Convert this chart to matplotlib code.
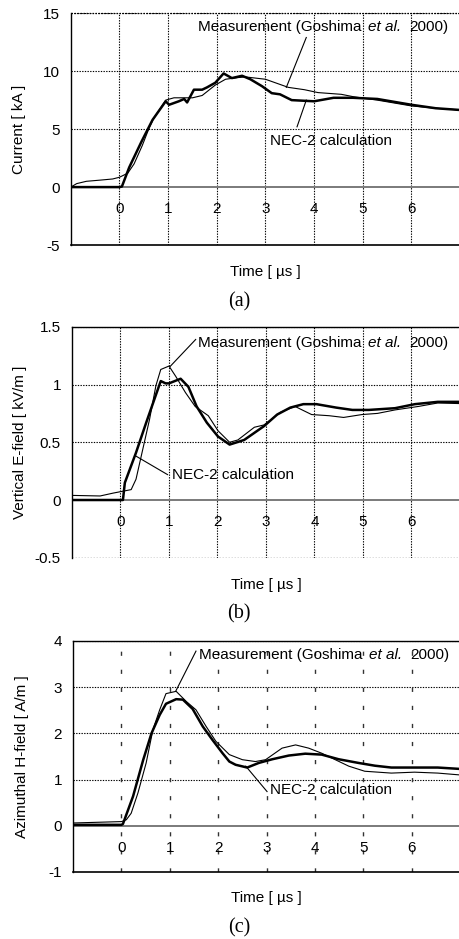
import matplotlib.pyplot as plt

plt.rcParams['font.family'] = ['Liberation Sans', 'DejaVu Sans']

# ---- (a) current [kA] ----
ta_nec = [-1.0, 0.0, 0.05, 0.2, 0.45, 0.68, 0.95, 1.02, 1.22, 1.33, 1.39, 1.53, 1.7, 1.8, 1.97,
          2.14, 2.31, 2.52, 2.69, 2.93, 3.13, 3.3, 3.54, 4.0, 4.4, 4.8, 5.3, 6.0, 6.5, 7.0]
ia_nec = [0.0, 0.0, 0.05, 1.7, 3.9, 5.8, 7.4, 7.1, 7.4, 7.6, 7.3, 8.4, 8.4, 8.6, 9.0,
          9.8, 9.4, 9.6, 9.3, 8.7, 8.1, 8.0, 7.5, 7.4, 7.7, 7.7, 7.6, 7.1, 6.8, 6.65]
ta_meas = [-1.0, -0.88, -0.68, -0.4, -0.14, 0.0, 0.17, 0.3, 0.47, 0.6, 0.7, 0.95, 1.12, 1.5, 1.7,
           1.97, 2.18, 2.45, 2.59, 3.0, 3.47, 3.8, 4.08, 4.56, 4.8, 5.3, 6.0, 6.5, 7.0]
ia_meas = [0.0, 0.3, 0.5, 0.6, 0.7, 0.85, 1.2, 2.0, 3.6, 5.0, 5.9, 7.5, 7.7, 7.7, 7.9,
           8.8, 9.3, 9.45, 9.5, 9.3, 8.6, 8.4, 8.15, 8.0, 7.8, 7.5, 7.0, 6.8, 6.65]

# ---- (b) vertical E-field [kV/m] ----
tb_nec = [-1.0, 0.0, 0.05, 0.09, 0.32, 0.53, 0.83, 0.93, 1.0, 1.24, 1.4, 1.57, 1.78, 2.01, 2.25,
          2.55, 2.96, 3.23, 3.5, 3.77, 4.04, 4.45, 4.78, 5.12, 5.66, 6.07, 6.54, 7.0]
eb_nec = [0.0, 0.0, 0.0, 0.15, 0.41, 0.67, 1.03, 1.01, 1.01, 1.05, 0.98, 0.81, 0.67, 0.55, 0.48,
          0.52, 0.64, 0.74, 0.80, 0.83, 0.83, 0.80, 0.78, 0.78, 0.795, 0.83, 0.85, 0.85]
tb_meas = [-1.0, -0.42, -0.15, 0.22, 0.32, 0.46, 0.6, 0.73, 0.83, 1.0, 1.14, 1.34, 1.54, 1.81, 2.01,
           2.25, 2.42, 2.76, 2.96, 3.3, 3.6, 3.94, 4.3, 4.6, 4.98, 5.3, 5.66, 6.14, 6.54, 7.0]
eb_meas = [0.04, 0.035, 0.06, 0.09, 0.18, 0.44, 0.70, 0.99, 1.13, 1.16, 1.07, 0.93, 0.81, 0.73, 0.60,
           0.50, 0.52, 0.63, 0.65, 0.76, 0.81, 0.74, 0.73, 0.715, 0.74, 0.75, 0.78, 0.81, 0.84, 0.835]

# ---- (c) azimuthal H-field [A/m] ----
tc_nec = [-1.0, 0.0, 0.03, 0.24, 0.45, 0.62, 0.79, 0.92, 1.13, 1.27, 1.47, 1.68, 1.88, 2.09, 2.23,
          2.36, 2.6, 2.84, 3.12, 3.46, 3.8, 4.14, 4.49, 4.9, 5.24, 5.58, 6.06, 6.54, 7.0]
hc_nec = [0.02, 0.02, 0.04, 0.64, 1.43, 2.0, 2.4, 2.64, 2.74, 2.73, 2.53, 2.15, 1.86, 1.57, 1.39,
          1.32, 1.26, 1.36, 1.44, 1.52, 1.56, 1.54, 1.44, 1.36, 1.30, 1.26, 1.26, 1.26, 1.23]
tc_meas = [-1.0, 0.0, 0.1, 0.2, 0.34, 0.51, 0.65, 0.79, 0.92, 1.13, 1.34, 1.54, 1.75, 1.95, 2.23,
           2.5, 2.77, 2.98, 3.32, 3.6, 3.87, 4.14, 4.42, 4.7, 5.03, 5.58, 6.06, 6.54, 7.0]
hc_meas = [0.06, 0.09, 0.13, 0.27, 0.71, 1.36, 2.08, 2.51, 2.86, 2.91, 2.69, 2.51, 2.15, 1.83, 1.54,
           1.43, 1.39, 1.43, 1.68, 1.75, 1.68, 1.57, 1.43, 1.29, 1.18, 1.14, 1.16, 1.14, 1.10]

xticks = [0, 1, 2, 3, 4, 5, 6]

panels = [
    dict(t_nec=ta_nec, y_nec=ia_nec, t_meas=ta_meas, y_meas=ia_meas,
         ylim=(-5, 15), yticks=[-5, 0, 5, 10, 15], ylabels=["-5", "0", "5", "10", "15"],
         ylabel="Current [ kA ]", cap="(a)", rect=[0.154, 0.739, 0.846, 0.247],
         meas_txt=(1.61, 13.8), meas_line=((3.84, 12.9), (3.43, 8.6)),
         nec_txt=(3.1, 4.0), nec_line=((3.65, 5.2), (3.84, 7.5)),
         vgrid="dot", bottom="solid", top="dot", xlab_y=272, cap_y=302),
    dict(t_nec=tb_nec, y_nec=eb_nec, t_meas=tb_meas, y_meas=eb_meas,
         ylim=(-0.5, 1.5), yticks=[-0.5, 0, 0.5, 1, 1.5], ylabels=["-0.5", "0", "0.5", "1", "1.5"],
         ylabel="Vertical E-field [ kV/m ]", cap="(b)", rect=[0.1565, 0.406, 0.8435, 0.246],
         meas_txt=(1.59, 1.36), meas_line=((1.55, 1.39), (1.02, 1.155)),
         nec_txt=(1.06, 0.215), nec_line=((0.97, 0.22), (0.32, 0.38)),
         vgrid="dot", bottom="dot", top="solid", xlab_y=585, cap_y=614),
    dict(t_nec=tc_nec, y_nec=hc_nec, t_meas=tc_meas, y_meas=hc_meas,
         ylim=(-1, 4), yticks=[-1, 0, 1, 2, 3, 4], ylabels=["-1", "0", "1", "2", "3", "4"],
         ylabel="Azimuthal H-field [ A/m ]", cap="(c)", rect=[0.159, 0.0714, 0.841, 0.246],
         meas_txt=(1.6, 3.70), meas_line=((1.54, 3.78), (1.12, 2.91)),
         nec_txt=(3.08, 0.77), nec_line=((3.01, 0.74), (2.57, 1.29)),
         vgrid="dash", bottom="solid", top="solid", xlab_y=898, cap_y=928),
]

DOT = (0, (1.2, 1.2))
FS = 11
fig = plt.figure(figsize=(4.6, 9.39), dpi=100)
fig.canvas.draw()
r = fig.canvas.get_renderer()

for p in panels:
    ax = fig.add_axes(p["rect"])
    ax.set_xlim(-1, 7)
    ax.set_ylim(*p["ylim"])
    # grid
    for yv in p["yticks"][1:]:
        if yv != 0:
            ax.axhline(yv, color="black", lw=0.8, ls=DOT, zorder=1)
    for xv in xticks:
        if p["vgrid"] == "dot":
            ax.axvline(xv, color="black", lw=0.8, ls=DOT, zorder=1)
        else:
            ax.axvline(xv, color="#333333", lw=1.0, ls=(0, (3, 10)), zorder=1)
    if p["bottom"] == "dot":
        ax.axhline(p["ylim"][0], color="black", lw=0.9, ls=DOT, zorder=1)
    if p["top"] == "dot":
        ax.axhline(p["ylim"][1], color="black", lw=0.9, ls=DOT, zorder=1, clip_on=False)
    else:
        ax.axhline(p["ylim"][1], color="black", lw=1.0, zorder=1, clip_on=False)
    ax.axhline(0, color="#7a7a7a", lw=1.4, zorder=2)
    # curves
    ax.plot(p["t_meas"], p["y_meas"], color="black", lw=0.8, zorder=3)
    ax.plot(p["t_nec"], p["y_nec"], color="black", lw=1.8, zorder=4)
    # spines
    for s in ["top", "right"]:
        ax.spines[s].set_visible(False)
    ax.spines["left"].set_linewidth(1.0)
    ax.spines["bottom"].set_linewidth(1.2)
    ax.spines["bottom"].set_visible(p["bottom"] == "solid")
    ax.set_yticks(p["yticks"])
    ax.set_yticklabels(p["ylabels"], fontsize=FS)
    ax.set_xticks([])
    ax.tick_params(axis="y", length=0, pad=8)
    ax.set_ylabel(p["ylabel"], fontsize=FS)
    ax.yaxis.set_label_coords(-0.115, 0.5)
    for xv in xticks:
        ax.annotate(str(xv), xy=(xv, 0), xytext=(0, -16), textcoords="offset points",
                    ha="center", va="center", fontsize=FS)
    # annotations: "Measurement (Goshima et al.  2000)" with italic et al.
    mx, my = p["meas_txt"]
    t0 = ax.text(mx, my, "Measurement (Goshima", fontsize=FS, va="center", ha="left")
    bb = t0.get_window_extent(r)
    x_it = ax.transData.inverted().transform((bb.x1 + 7, bb.y0))[0]
    it = ax.text(x_it, my, "et al.", fontsize=FS, style="italic", va="center", ha="left")
    bb2 = it.get_window_extent(r)
    x_end = ax.transData.inverted().transform((bb2.x1 + 8, bb2.y0))[0]
    ax.text(x_end, my, "2000)", fontsize=FS, va="center", ha="left")
    (x0, y0), (x1, y1) = p["meas_line"]
    ax.plot([x0, x1], [y0, y1], color="black", lw=0.8, zorder=5)
    nx, ny = p["nec_txt"]
    ax.text(nx, ny, "NEC-2 calculation", fontsize=FS, va="center", ha="left")
    (x0, y0), (x1, y1) = p["nec_line"]
    ax.plot([x0, x1], [y0, y1], color="black", lw=0.8, zorder=5)
    # axis title and caption
    xc = p["rect"][0] + p["rect"][2] / 2
    fig.text(xc, 1 - p["xlab_y"] / 939, "Time [ \u00b5s ]", fontsize=FS, ha="center", va="center")
    fig.text(0.52, 1 - p["cap_y"] / 939, p["cap"], fontsize=14.5, ha="center", va="center",
             family=["Liberation Serif", "DejaVu Serif"])

fig.savefig("out.png", dpi=100)
